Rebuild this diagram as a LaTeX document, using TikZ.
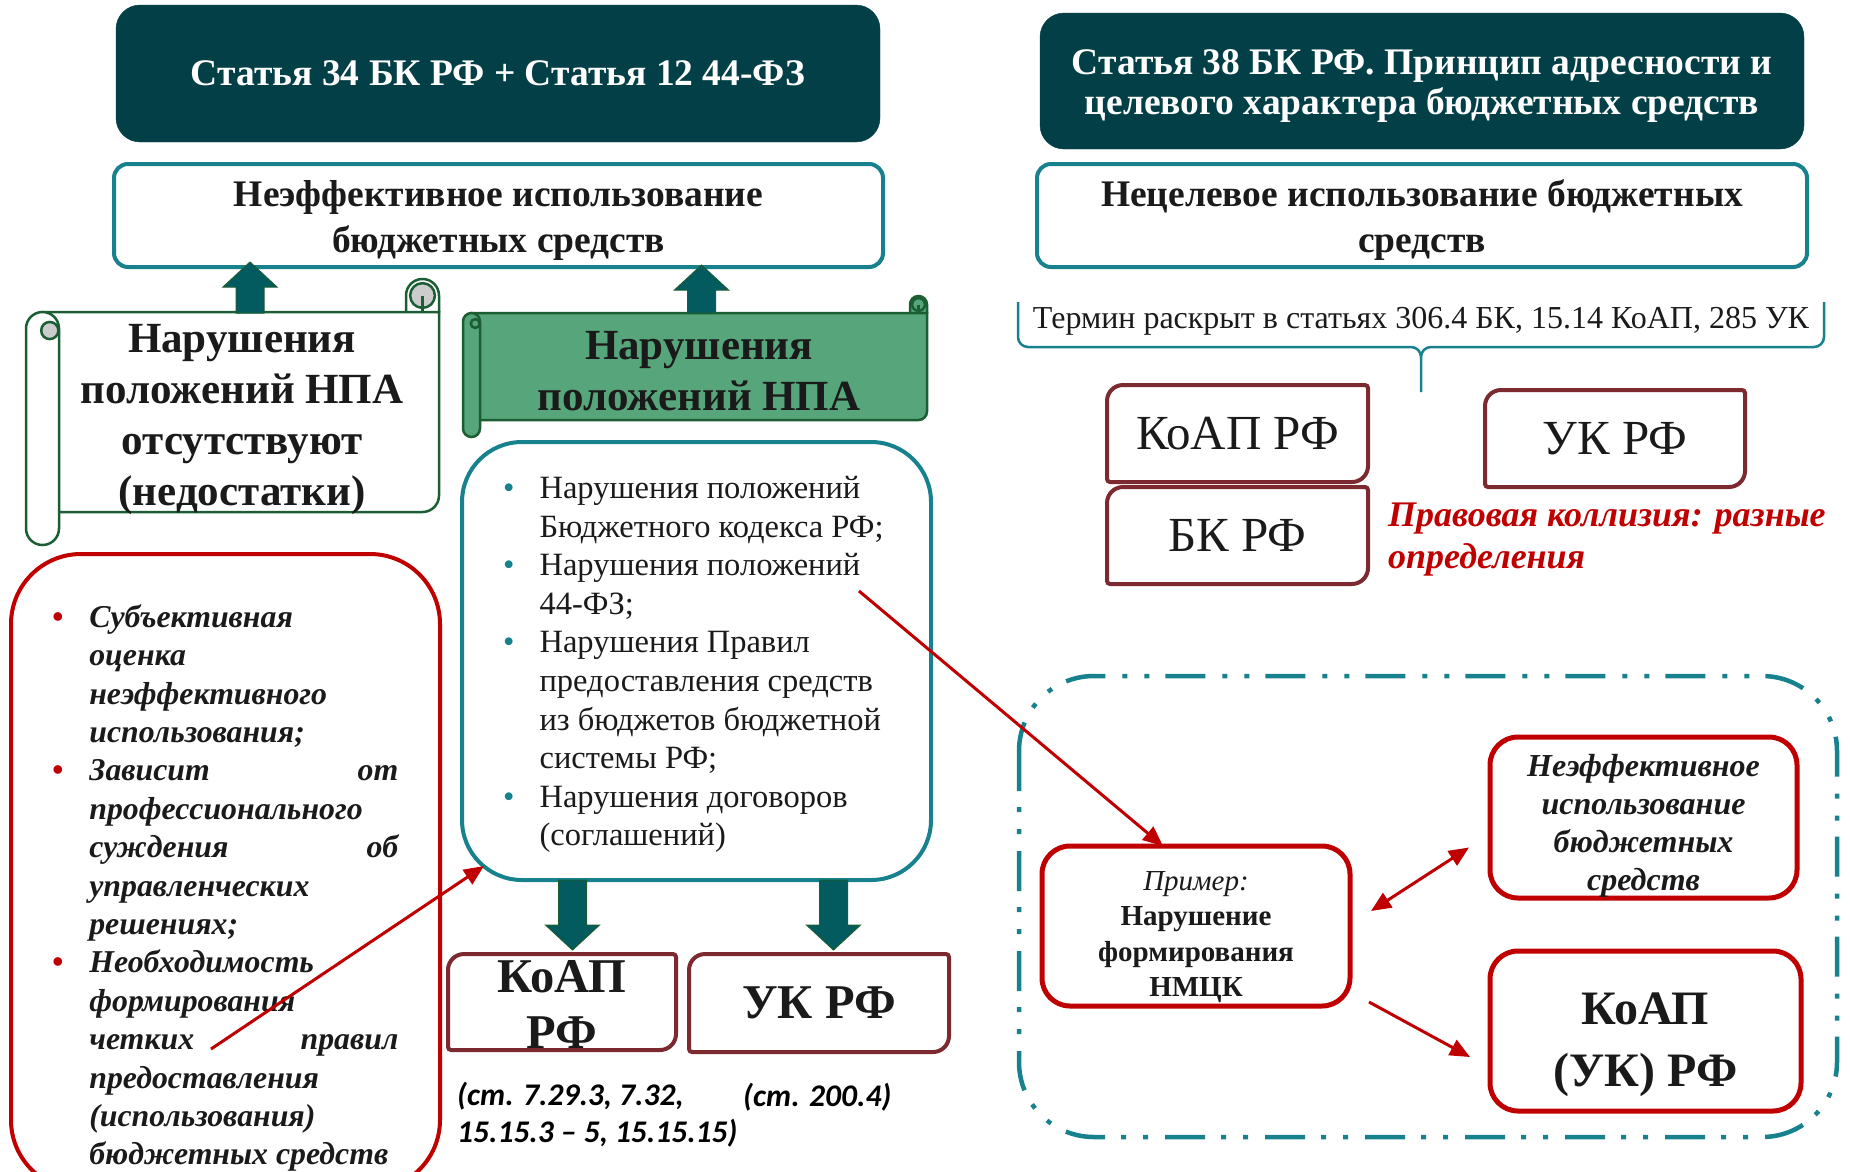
\documentclass[tikz,border=0pt]{standalone}
\usepackage{fontspec}
\setmainfont{Liberation Serif}
\newfontfamily\calibfont{Carlito}
\usetikzlibrary{
    arrows.meta,
    calc,
    positioning
}

\definecolor{darkteal}{HTML}{033F46}
\definecolor{tealline}{HTML}{17818D}
\definecolor{scrollgreen}{HTML}{56A57B}
\definecolor{scrollline}{HTML}{1B5E33}
\definecolor{arrowfill}{HTML}{035A5F}
\definecolor{wine}{HTML}{7C2A30}
\definecolor{brightred}{HTML}{C00000}
\definecolor{inktext}{HTML}{1A1A1A}

\tikzset{
    headbox/.style={fill=darkteal, draw=darkteal, rounded corners=24pt, outer sep=0pt},
    headtext/.style={text=white, align=center, font=\fontsize{37.5}{40}\selectfont\bfseries},
    termbox/.style={draw=tealline, line width=4pt, fill=white, rounded corners=14pt, outer sep=0pt},
    termtext/.style={align=center, text=inktext, font=\fontsize{37.5}{46}\selectfont\bfseries},
    scrolledge/.style={draw=scrollline, line width=2.5pt},
    scrolltext/.style={align=center, text=inktext, font=\fontsize{43}{51}\selectfont\bfseries},
    listbox/.style={draw=tealline, line width=4pt, rounded corners=60pt, outer sep=0pt},
    redround/.style={draw=brightred, line width=4pt, rounded corners=70pt, outer sep=0pt},
    winebox/.style={outer sep=0pt, text=inktext, align=center},
    redbox/.style={draw=brightred, line width=5pt, fill=white, rounded corners=28pt, outer sep=0pt},
    redtext/.style={align=center, text=inktext},
    fatarrowstyle/.style={fill=arrowfill, draw=scrollline, line width=1pt},
    redarrow/.style={draw=brightred, line width=3pt, -{Triangle[length=20pt,width=17pt]}},
    dashframe/.style={draw=tealline, line width=4.5pt, rounded corners=75pt, dash pattern=on 40pt off 16pt on 5pt off 17pt on 5pt off 17pt}
}

% block arrow from #1 to #2
\newcommand{\fatarrow}[2]{%
    \filldraw[fatarrowstyle]
        ($(#1)!14pt!90:(#2)$) --
        ($(#2)!25pt!(#1)!14pt!90:(#2)$) --
        ($(#2)!25pt!(#1)!27pt!90:(#2)$) --
        (#2) --
        ($(#2)!25pt!(#1)!27pt!-90:(#2)$) --
        ($(#2)!25pt!(#1)!14pt!-90:(#2)$) --
        ($(#1)!14pt!-90:(#2)$) -- cycle;
}

% frame with two round corners round a node
\newcommand{\diagframe}[1]{%
    \draw[draw=wine, line width=4pt]
        (#1.west) [rounded corners=16pt] -- (#1.north west) -- (#1.north)
        [rounded corners=3pt] -- (#1.north east) -- (#1.east)
        [rounded corners=16pt] -- (#1.south east) -- (#1.south)
        [rounded corners=3pt] -- (#1.south west) -- cycle;
}

% horizontal scroll: x0, ytop, x1, ybottom, roll size, fill, curl fill
\newcommand{\drawscroll}[7]{%
    \pgfmathsetmacro{\rollhalf}{#5/2}%
    \draw[scrolledge, fill=#6, rounded corners=\rollhalf pt] (#3-#5,#2) rectangle (#3,#2+#5+\rollhalf);
    \draw[scrolledge, fill=#7] (#3-\rollhalf,#2+\rollhalf) circle[radius=\rollhalf*0.75];
    \draw[scrolledge, fill=#6] (#1+\rollhalf,#2+#5) -- (#3,#2+#5) -- (#3,#4-#5-\rollhalf)
        arc[start angle=0, end angle=90, radius=\rollhalf] -- (#1+\rollhalf,#4-#5) -- cycle;
    \draw[scrolledge] (#3-\rollhalf,#2+\rollhalf) -- (#3-\rollhalf,#2+#5);
    \draw[scrolledge, fill=#6, rounded corners=\rollhalf pt] (#1,#2+#5) rectangle (#1+#5,#4);
    \draw[scrolledge, fill=#7] (#1+#5*0.72,#2+#5+\rollhalf+2) circle[radius=#5*0.26];
}

\newcommand{\tealdot}{\textcolor{tealline}{\textbullet}}
\newcommand{\reddot}{\textcolor{brightred}{\textbullet}}
\newcommand{\spreadline}[2]{\makebox[309pt][s]{#1\hfill #2}}

\begin{document}
\begin{tikzpicture}[x=1pt, y=-1pt]
    \useasboundingbox (0,0) rectangle (1850,1171);

    % left column
    \node[headbox, minimum width=764pt, minimum height=137pt] (art34) at (498,73.5) {};
    \node[headtext] (art34text) at (art34) {Статья 34 БК РФ + Статья 12 44-ФЗ};
    \node[termbox, minimum width=769pt, minimum height=103pt] (neffL) at (498.5,215.5) {};
    \node[termtext] (neffLtext) at ([yshift=-5pt]neffL.center) {Неэффективное использование\\бюджетных средств};

    \drawscroll{26}{279}{439}{545}{33}{white}{black!20}
    \node[scrolltext] (npaMissing) at (242,419) {Нарушения\\положений НПА\\отсутствуют\\(недостатки)};
    \drawscroll{463}{296}{927}{437}{17}{scrollgreen}{scrollgreen}
    \node[scrolltext] (npaBroken) at (699,371) {Нарушения\\положений НПА};

    \coordinate (upL) at (250,313);
    \coordinate (upR) at (701.5,313);
    \path (upL |- neffL.south) ++(0,-5) coordinate (tipL);
    \path (upR |- neffL.south) ++(0,-2) coordinate (tipR);
    \fatarrow{upL}{tipL}
    \fatarrow{upR}{tipR}

    \node[listbox, minimum width=469pt, minimum height=438pt] (listNPA) at (696.5,661) {};
    \node[anchor=west, inner sep=0pt, text=inktext, font=\fontsize{32.5}{38.6}\selectfont] (listNPAtext) at (503,664.5) {%
        \begin{tabular}{@{}c@{\hspace{25pt}}l@{}}
            \tealdot & Нарушения положений \\
                     & Бюджетного кодекса РФ; \\
            \tealdot & Нарушения положений \\
                     & 44-ФЗ; \\
            \tealdot & Нарушения Правил \\
                     & предоставления средств \\
                     & из бюджетов бюджетной \\
                     & системы РФ; \\
            \tealdot & Нарушения договоров \\
                     & (соглашений)
        \end{tabular}};

    \node[redround, minimum width=429pt, minimum height=636pt] (subjBox) at (225.5,872) {};
    \node[anchor=west, inner sep=0pt, text=inktext, font=\fontsize{31.8}{38.4}\selectfont\bfseries\itshape] (subjText) at (52,888.5) {%
        \begin{tabular}{@{}c@{\hspace{26pt}}l@{}}
            \reddot & Субъективная \\
                    & оценка \\
                    & неэффективного \\
                    & использования; \\
            \reddot & \spreadline{Зависит}{от} \\
                    & профессионального \\
                    & \spreadline{суждения}{об} \\
                    & управленческих \\
                    & решениях; \\
            \reddot & Необходимость \\
                    & формирования \\
                    & \spreadline{четких}{правил} \\
                    & предоставления \\
                    & (использования) \\
                    & бюджетных средств
        \end{tabular}};

    \node[winebox, minimum width=228pt, minimum height=96pt] (koapL) at (562,1002) {};
    \diagframe{koapL}
    \node[text=inktext, align=center, font=\fontsize{48.5}{56}\selectfont\bfseries] (koapLtext) at (562,1004) {КоАП\\РФ};
    \node[winebox, minimum width=260pt, minimum height=98pt, font=\fontsize{48.5}{57}\selectfont\bfseries] (ukL) at (819,1003) {УК РФ};
    \diagframe{ukL}

    \coordinate (dnA) at (572.5,880);
    \coordinate (dnB) at (833.5,880);
    \path (dnA |- koapL.north) ++(0,-4) coordinate (dnAtip);
    \path (dnB |- ukL.north) ++(0,-4) coordinate (dnBtip);
    \fatarrow{dnA}{dnAtip}
    \fatarrow{dnB}{dnBtip}

    \node[anchor=west, inner sep=0pt, align=left, text=black, font=\calibfont\fontsize{31.5}{37}\selectfont\bfseries\itshape] (koapArts) at (457,1115) {(ст. 7.29.3, 7.32,\\15.15.3 – 5, 15.15.15)};
    \node[anchor=west, inner sep=0pt, text=black, font=\calibfont\fontsize{31.5}{37}\selectfont\bfseries\itshape] (ukArts) at (743,1097) {(ст. 200.4)};

    % right column
    \node[headbox, minimum width=764pt, minimum height=136pt] (art38) at (1422,81) {};
    \node[headtext] (art38text) at ([yshift=-5pt]art38.center) {Статья 38 БК РФ. Принцип адресности и\\целевого характера бюджетных средств};
    \node[termbox, minimum width=770pt, minimum height=103pt] (misuse) at (1422,215.5) {};
    \node[termtext] (misusetext) at ([yshift=-5pt]misuse.center) {Нецелевое использование бюджетных\\средств};

    \node[text=inktext, font=\fontsize{32}{36}\selectfont] (termin) at (1421,321.5) {Термин раскрыт в статьях 306.4 БК, 15.14 КоАП, 285 УК};
    \coordinate (braceTip) at (1421,392);
    \draw[tealline, line width=2.5pt, rounded corners=10pt]
        (1018,302) -- (1018,347) -- (braceTip |- 0,347) -- (braceTip)
        (1824,302) -- (1824,347) -- (braceTip |- 0,347) -- (braceTip);

    \node[winebox, minimum width=261pt, minimum height=97pt, font=\fontsize{49}{57}\selectfont] (koapR) at (1237.5,433.5) {КоАП РФ};
    \diagframe{koapR}
    \node[winebox, minimum width=261pt, minimum height=97pt, font=\fontsize{49}{57}\selectfont] (bkR) at (1237.5,535.5) {БК РФ};
    \diagframe{bkR}
    \node[winebox, minimum width=260pt, minimum height=97pt, font=\fontsize{49}{57}\selectfont] (ukR) at (1615,438.5) {УК РФ};
    \diagframe{ukR}

    \node[anchor=west, inner sep=0pt, align=left, text=brightred, font=\fontsize{36}{42}\selectfont\bfseries\itshape] (collision) at (1388,540) {Правовая коллизия: разные\\определения};

    \draw[dashframe] (1019,676) rectangle (1837,1137);

    \node[redbox, minimum width=308pt, minimum height=160pt] (example) at (1196,926) {};
    \node[redtext, font=\fontsize{29}{35.5}\selectfont] (exampletext) at ([yshift=-11pt]example.center) {\textit{Пример:}\\\textbf{Нарушение}\\\textbf{формирования}\\\textbf{НМЦК}};
    \node[redbox, minimum width=307pt, minimum height=161pt] (neffR) at (1643.5,817.5) {};
    \node[redtext, font=\fontsize{32}{38}\selectfont\bfseries\itshape] (neffRtext) at ([yshift=-8pt]neffR.center) {Неэффективное\\использование\\бюджетных\\средств};
    \node[redbox, minimum width=311pt, minimum height=160pt] (koapUK) at (1645.5,1031) {};
    \node[redtext, font=\fontsize{48}{62}\selectfont\bfseries] (koapUKtext) at ([yshift=-14pt]koapUK.center) {КоАП\\(УК) РФ};

    % red connectors
    \coordinate (from44) at (859,591);
    \coordinate (fromRules) at (211,1049);
    \draw[redarrow] (from44) -- ([xshift=-33pt]example.north);
    \draw[redarrow] (fromRules) -- ([shift={(22pt,14pt)}]listNPA.south west);
    \draw[redarrow, {Triangle[length=20pt,width=17pt]}-{Triangle[length=20pt,width=17pt]}] ([shift={(21pt,15pt)}]example.east) -- ([shift={(-21pt,-30pt)}]neffR.west);
    \draw[redarrow] ([shift={(19pt,-76pt)}]example.east) -- ([shift={(-20pt,-26pt)}]koapUK.west);
\end{tikzpicture}
\end{document}
